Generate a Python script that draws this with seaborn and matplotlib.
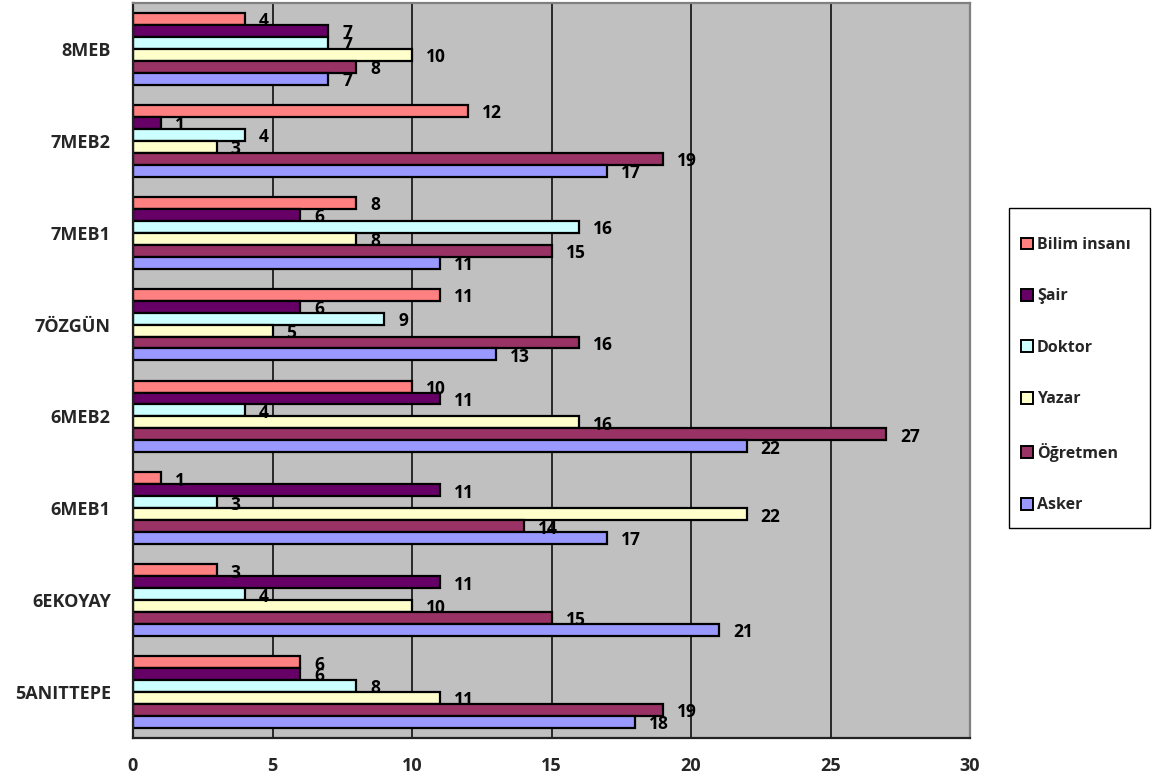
import matplotlib
matplotlib.use("Agg")
import matplotlib.pyplot as plt
from matplotlib.patches import Patch, Rectangle
import seaborn as sns
import pandas as pd
import numpy as np

# Data (top -> bottom)
categories = ["8MEB", "7MEB2", "7MEB1", "7ÖZGÜN", "6MEB2", "6MEB1", "6EKOYAY", "5ANITTEPE"]
series = ["Bilim insanı", "Şair", "Doktor", "Yazar", "Öğretmen", "Asker"]
bilim_insani = [4, 12, 8, 11, 10, 1, 3, 6]
sair = [7, 1, 6, 6, 11, 11, 11, 6]
doktor = [7, 4, 16, 9, 4, 3, 4, 8]
yazar = [10, 3, 8, 5, 16, 22, 10, 11]
ogretmen = [8, 19, 15, 16, 27, 14, 15, 19]
asker = [7, 17, 11, 13, 22, 17, 21, 18]
colors = ["#FF8080", "#660066", "#CCFFFF", "#FFFFCC", "#993366", "#9999FF"]
x_ticks = [0, 5, 10, 15, 20, 25, 30]

values = [bilim_insani, sair, doktor, yazar, ogretmen, asker]
rows = []
for s, vals in zip(series, values):
    for c, v in zip(categories, vals):
        rows.append({"category": c, "series": s, "value": v})
df = pd.DataFrame(rows)

sns.set_style("white")
plt.rcParams["font.family"] = ["Open Sans", "DejaVu Sans"]
plt.rcParams["font.weight"] = "bold"

fig = plt.figure(figsize=(11.52, 7.83), dpi=100)
ax = fig.add_axes([133 / 1152, 45 / 783, (970 - 133) / 1152, (738 - 3) / 783])
ax.set_facecolor("#C0C0C0")

sns.barplot(data=df, x="value", y="category", hue="series", order=categories,
            hue_order=series, palette=colors, width=0.78, edgecolor="black",
            linewidth=1.6, orient="h", ax=ax, legend=False, saturation=1)

ax.set_xlim(0, 30)
ax.set_ylim(len(categories) - 0.5, -0.5)
ax.set_xticks(x_ticks)
ax.set_xticklabels([str(t) for t in x_ticks], fontsize=13, fontweight="bold")
ax.set_yticks(range(len(categories)))
ax.set_yticklabels(categories, fontsize=13, fontweight="bold")
ax.set_yticks(np.arange(-0.5, len(categories), 1.0), minor=True)
ax.tick_params(axis="y", which="major", length=0, pad=16)
ax.tick_params(axis="y", which="minor", length=5, width=1.2, color="black", direction="out")
ax.tick_params(axis="x", which="major", length=5, width=1.2, color="black", direction="out", pad=9)
ax.set_xlabel("")
ax.set_ylabel("")

for xv in x_ticks[1:-1]:
    ax.axvline(xv, color="black", linewidth=1.1, zorder=0.5)
ax.set_axisbelow(True)

for side in ["left", "bottom"]:
    ax.spines[side].set_color("#222222")
    ax.spines[side].set_linewidth(1.6)
for side in ["top", "right"]:
    ax.spines[side].set_color("#808080")
    ax.spines[side].set_linewidth(1.6)
    ax.spines[side].set_visible(True)

for cont in ax.containers:
    for bar in cont:
        w = bar.get_width()
        yc = bar.get_y() + bar.get_height() / 2
        ax.text(w + 0.5, yc + 0.025, f"{int(round(w))}", ha="left", va="center",
                fontsize=12.5, fontweight="bold", color="black")

# Legend frame
fig.patches.append(Rectangle((1009 / 1152, 1 - 528 / 783), (1150 - 1009) / 1152,
                             (528 - 208) / 783, transform=fig.transFigure,
                             facecolor="white", edgecolor="black", linewidth=1.0,
                             zorder=0))
handles = [Patch(facecolor=c, edgecolor="black", linewidth=1.4, label=s)
           for s, c in zip(series, colors)]
leg = fig.legend(handles=handles, loc="upper left",
                 bbox_to_anchor=(1021 / 1152, 1 - 237 / 783),
                 borderaxespad=0, frameon=False,
                 prop={"size": 11.5, "weight": "bold"},
                 handlelength=0.75, handleheight=0.75, handletextpad=0.25,
                 labelspacing=2.22, borderpad=0)

fig.savefig("out.png", dpi=100)
